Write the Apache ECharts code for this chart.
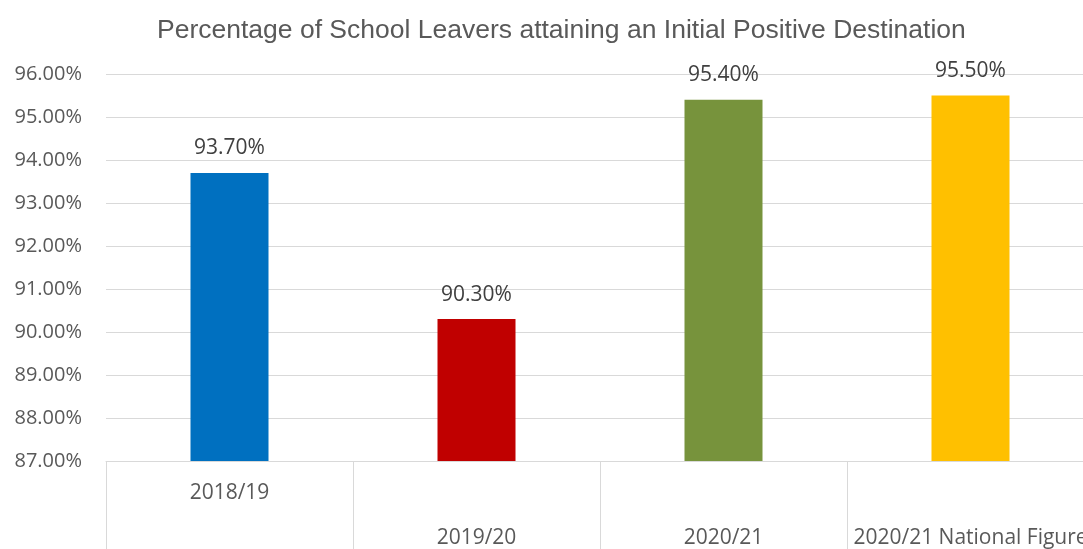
<!DOCTYPE html>
<html>
<head>
<meta charset="utf-8">
<script src="https://cdn.jsdelivr.net/npm/echarts@6/dist/echarts.min.js"></script>
<style>
  html, body { margin: 0; padding: 0; background: #fff; }
  #chart { width: 1083px; height: 549px; }
</style>
</head>
<body>
<div id="chart"></div>
<script>
const categories = ['2018/19', '2019/20', '2020/21', '2020/21 National Figure'];
const leaverPercent = [93.7, 90.3, 95.4, 95.5];
const barColors = ['#0070C0', '#C00000', '#77933C', '#FFC000'];

const chart = echarts.init(document.getElementById('chart'));

chart.setOption({
  animation: false,
  title: {
    text: 'Percentage of School Leavers attaining an Initial Positive Destination',
    left: 152,
    top: 12,
    textStyle: {
      fontFamily: 'Liberation Sans',
      fontSize: 26.5,
      fontWeight: 'normal',
      color: '#595959',
    },
  },
  grid: {
    left: 106,
    right: -11,
    top: 74,
    bottom: 88,
    outerBoundsMode: 'none',
  },
  xAxis: {
    type: 'category',
    data: categories,
    axisLine: { lineStyle: { color: '#d9d9d9' } },
    axisTick: { show: true, length: 90, lineStyle: { color: '#d9d9d9' } },
    axisLabel: {
      interval: 0,
      margin: 10,
      lineHeight: 45,
      fontFamily: 'Open Sans',
      fontSize: 21,
      color: '#595959',
      // Excel staggers the labels: first one high, others a row lower
      formatter: (v, i) => (i === 0 ? v : '\n' + v),
    },
  },
  yAxis: {
    type: 'value',
    min: 87,
    max: 96,
    interval: 1,
    axisLine: { show: false },
    axisTick: { show: false },
    splitLine: { lineStyle: { color: '#d9d9d9' } },
    axisLabel: {
      margin: 24,
      fontFamily: 'Open Sans',
      fontSize: 20,
      color: '#595959',
      formatter: (v) => v.toFixed(2) + '%',
    },
  },
  series: [
    {
      type: 'bar',
      barWidth: 78,
      data: leaverPercent.map((v, i) => ({
        value: v,
        itemStyle: { color: barColors[i] },
      })),
      label: {
        show: true,
        position: 'top',
        distance: 14,
        fontFamily: 'Open Sans',
        fontSize: 21,
        color: '#404040',
        formatter: (p) => p.value.toFixed(2) + '%',
      },
    },
  ],
});
</script>
</body>
</html>
